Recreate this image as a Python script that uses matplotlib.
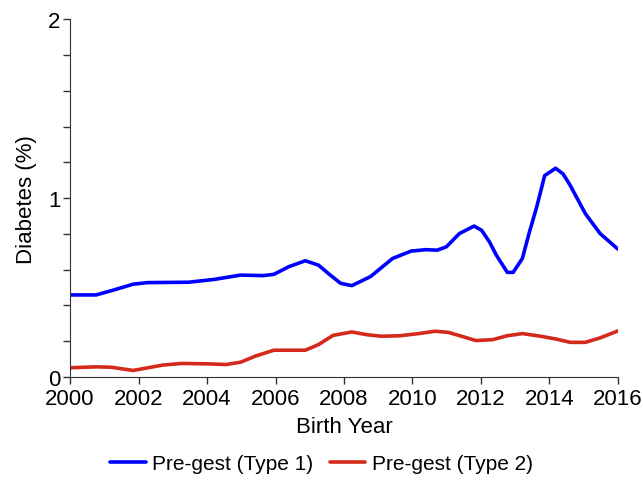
import matplotlib
matplotlib.use("Agg")
import matplotlib.pyplot as plt
import numpy as np

plt.rcParams['font.family'] = ['Liberation Sans', 'DejaVu Sans']

# values
type1_years = [2000.0, 2000.76, 2001.3, 2001.84, 2002.27, 2003.46, 2004.22, 2004.98, 2005.63,
               2005.95, 2006.39, 2006.87, 2007.25, 2007.6, 2007.90, 2008.23, 2008.77, 2009.42,
               2009.96, 2010.4, 2010.72, 2010.99, 2011.37, 2011.80, 2012.02, 2012.25, 2012.45,
               2012.77, 2012.94, 2013.21, 2013.4, 2013.64, 2013.86, 2014.18, 2014.4, 2014.61,
               2015.05, 2015.48, 2016.0]
type1_vals = [0.459, 0.459, 0.488, 0.519, 0.528, 0.530, 0.546, 0.570, 0.567,
              0.574, 0.617, 0.650, 0.626, 0.570, 0.524, 0.511, 0.561, 0.663,
              0.704, 0.712, 0.709, 0.728, 0.802, 0.844, 0.820, 0.755, 0.681,
              0.585, 0.585, 0.663, 0.800, 0.959, 1.126, 1.167, 1.135, 1.070,
              0.913, 0.802, 0.715]

type2_years = [2000.0, 2000.76, 2001.2, 2001.84, 2002.71, 2003.25, 2004.0, 2004.55,
               2004.98, 2005.41, 2005.95, 2006.39, 2006.87, 2007.25, 2007.68, 2008.23,
               2008.66, 2009.10, 2009.64, 2010.18, 2010.66, 2011.04, 2011.47, 2011.85,
               2012.34, 2012.77, 2013.21, 2013.75, 2014.18, 2014.61, 2015.05, 2015.48,
               2016.0]
type2_vals = [0.052, 0.057, 0.055, 0.037, 0.067, 0.076, 0.074, 0.070,
              0.083, 0.117, 0.150, 0.150, 0.150, 0.181, 0.233, 0.252,
              0.237, 0.228, 0.231, 0.243, 0.256, 0.250, 0.226, 0.204,
              0.209, 0.231, 0.243, 0.228, 0.213, 0.194, 0.194, 0.219,
              0.258]

fig = plt.figure(figsize=(6.43, 4.81), dpi=100)
ax = fig.add_axes([0.109, 0.214, 0.852, 0.744])

ax.plot(type1_years, type1_vals, color='#0000ff', lw=2.6, label='Pre-gest (Type 1)',
        solid_joinstyle='round', solid_capstyle='round')
ax.plot(type2_years, type2_vals, color='#d42a1c', lw=2.6, label='Pre-gest (Type 2)',
        solid_joinstyle='round', solid_capstyle='round')

ax.set_xlim(2000, 2016)
ax.set_ylim(0, 2)
ax.set_xticks(np.arange(2000, 2017, 2))
ax.set_yticks([0, 1, 2])
ax.set_yticks(np.arange(0, 2.01, 0.2), minor=True)
ax.tick_params(axis='both', labelsize=16, colors='#333333', labelcolor='black',
               direction='out', length=5, width=1, pad=2)
ax.tick_params(axis='x', pad=3)
ax.tick_params(axis='y', which='minor', length=5, width=1, colors='#333333')

for s in ['top', 'right']:
    ax.spines[s].set_visible(False)
for s in ['left', 'bottom']:
    ax.spines[s].set_color('#333333')

ax.set_xlabel('Birth Year', fontsize=16, labelpad=5)
ax.set_ylabel('Diabetes (%)', fontsize=16, labelpad=8)

fig.legend(loc='center', bbox_to_anchor=(0.5, 0.034), ncol=2, frameon=False,
           fontsize=15, handlelength=1.7, handletextpad=0.3, columnspacing=0.8)

fig.savefig('out.png', dpi=100)
